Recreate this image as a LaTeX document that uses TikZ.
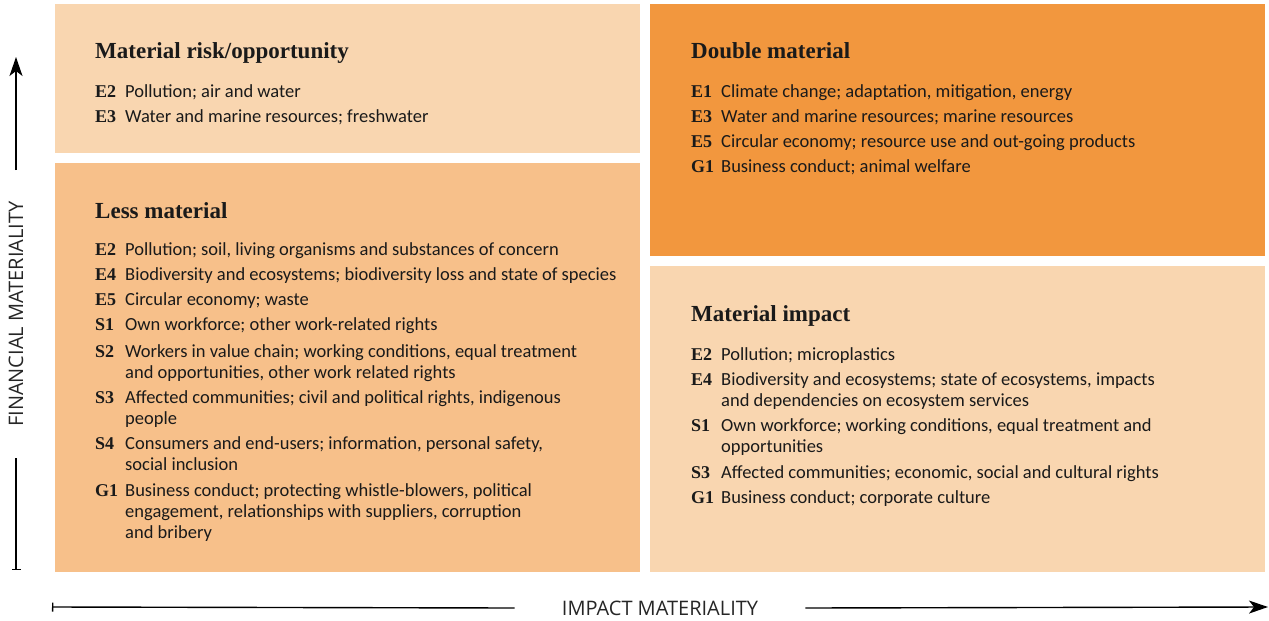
\documentclass[tikz,border=0pt]{standalone}
\usepackage{fontspec}
\setmainfont{Carlito}
\newfontfamily\headfont{Liberation Serif}
\newfontfamily\axisfont{Open Sans}
\usetikzlibrary{arrows.meta}

\definecolor{riskfill}{RGB}{249,214,176}
\definecolor{lessfill}{RGB}{247,192,138}
\definecolor{doublefill}{RGB}{242,151,62}
\definecolor{ink}{RGB}{26,26,26}

\begin{document}
\begin{tikzpicture}[x=1pt, y=-1pt,
		every node/.style={text=ink},
		quad/.style={anchor=north west, inner sep=0pt},
		head/.style={anchor=base west, inner sep=0pt, font=\headfont\bfseries\fontsize{23}{27}\selectfont},
		code/.style={anchor=base west, inner sep=0pt, yshift=-2pt, font=\headfont\bfseries\fontsize{18}{21}\selectfont},
		% multi-line topics sit on the baseline of their last line
		topic/.style={anchor=base west, inner sep=0pt, yshift=-2pt, align=left, font=\fontsize{18.5}{21}\selectfont},
		axis/.style={line width=1.4pt},
		axislabel/.style={inner ysep=0pt, font=\axisfont\fontsize{20}{24}\selectfont, text=black!85}]
			\useasboundingbox (0,0) rectangle (1269,621);
			%Quadrants
			\node[quad, fill=riskfill, minimum width=585, minimum height=149] (risk) at (55,4) {};
			\node[quad, fill=lessfill, minimum width=585, minimum height=409] (less) at (55,163) {};
			\node[quad, fill=doublefill, minimum width=615, minimum height=252] (dbl) at (650,4) {};
			\node[quad, fill=riskfill, minimum width=615, minimum height=306] (impact) at (650,266) {};
			% Material risk/opportunity
			\node[head] (riskhead) at (95,58) {Material risk/opportunity};
			\node[code] (rE2) at (95,95) {E2};
			\node[topic] (rE2t) at (125,95) {Pollution; air and water};
			\node[code] (rE3) at (95,120) {E3};
			\node[topic] (rE3t) at (125,120) {Water and marine resources; freshwater};
			% Less material
			\node[head] (lesshead) at (95,218) {Less material};
			\node[code] (lE2) at (95,253) {E2};
			\node[topic] (lE2t) at (125,253) {Pollution; soil, living organisms and substances of concern};
			\node[code] (lE4) at (95,278) {E4};
			\node[topic] (lE4t) at (125,278) {Biodiversity and ecosystems; biodiversity loss and state of species};
			\node[code] (lE5) at (95,303) {E5};
			\node[topic] (lE5t) at (125,303) {Circular economy; waste};
			\node[code] (lS1) at (95,328) {S1};
			\node[topic] (lS1t) at (125,328) {Own workforce; other work-related rights};
			\node[code] (lS2) at (95,355) {S2};
			\node[topic] (lS2t) at (125,376) {Workers in value chain; working conditions, equal treatment\\and opportunities, other work related rights};
			\node[code] (lS3) at (95,401) {S3};
			\node[topic] (lS3t) at (125,422) {Affected communities; civil and political rights, indigenous\\people};
			\node[code] (lS4) at (95,447) {S4};
			\node[topic] (lS4t) at (125,468) {Consumers and end-users; information, personal safety,\\social inclusion};
			\node[code] (lG1) at (95,494) {G1};
			\node[topic] (lG1t) at (125,536) {Business conduct; protecting whistle-blowers, political\\engagement, relationships with suppliers, corruption\\and bribery};
			% Double material
			\node[head] (dblhead) at (691,58) {Double material};
			\node[code] (dE1) at (691,95) {E1};
			\node[topic] (dE1t) at (721,95) {Climate change; adaptation, mitigation, energy};
			\node[code] (dE3) at (691,120) {E3};
			\node[topic] (dE3t) at (721,120) {Water and marine resources; marine resources};
			\node[code] (dE5) at (691,145) {E5};
			\node[topic] (dE5t) at (721,145) {Circular economy; resource use and out-going products};
			\node[code] (dG1) at (691,170) {G1};
			\node[topic] (dG1t) at (721,170) {Business conduct; animal welfare};
			% Material impact
			\node[head] (impacthead) at (691,321) {Material impact};
			\node[code] (iE2) at (691,358) {E2};
			\node[topic] (iE2t) at (721,358) {Pollution; microplastics};
			\node[code] (iE4) at (691,383) {E4};
			\node[topic] (iE4t) at (721,404) {Biodiversity and ecosystems; state of ecosystems, impacts\\and dependencies on ecosystem services};
			\node[code] (iS1) at (691,429) {S1};
			\node[topic] (iS1t) at (721,450) {Own workforce; working conditions, equal treatment and\\opportunities};
			\node[code] (iS3) at (691,476) {S3};
			\node[topic] (iS3t) at (721,476) {Affected communities; economic, social and cultural rights};
			\node[code] (iG1) at (691,501) {G1};
			\node[topic] (iG1t) at (721,501) {Business conduct; corporate culture};
			%Axes
			\coordinate (ftop) at (16,57);
			\coordinate (fbot) at (16,570);
			\node[axislabel, rotate=90, inner xsep=31pt] (flabel) at (16,314) {FINANCIAL MATERIALITY};
			\draw[axis, -{Stealth[length=19pt, width=13pt, inset=5pt]}] (flabel.east) -- (ftop);
			\draw[axis, {Bar[width=9pt]}-] (fbot) -- (flabel.west);
			\coordinate (istart) at (52,607);
			\coordinate (iend) at (1268,607);
			\node[axislabel, inner xsep=47pt] (ilabel) at (660,608) {IMPACT MATERIALITY};
			\draw[axis, {Bar[width=9pt]}-] (istart) -- (ilabel.west);
			\draw[axis, -{Stealth[length=19pt, width=13pt, inset=5pt]}] (ilabel.east) -- (iend);
		\end{tikzpicture}
\end{document}
